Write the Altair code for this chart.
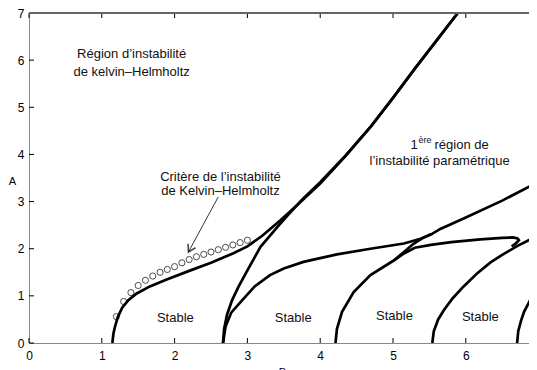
import altair as alt
import pandas as pd

# ---------------- data ----------------
c1_x = [1.145, 1.16, 1.18, 1.22, 1.28, 1.36, 1.48, 1.66, 1.90, 2.20, 2.50, 2.80, 3.00, 3.20, 3.45, 3.70, 4.00, 4.35, 4.70, 5.00, 5.30, 5.60, 5.89]
c1_y = [0.00, 0.20, 0.34, 0.55, 0.75, 0.90, 1.05, 1.20, 1.35, 1.53, 1.70, 1.90, 2.05, 2.27, 2.60, 2.95, 3.38, 3.97, 4.60, 5.20, 5.82, 6.42, 7.00]

c2a_x = [2.665, 2.68, 2.72, 2.79, 2.88, 3.00, 3.18, 3.41, 3.55, 3.75, 4.00, 4.35, 4.70, 5.00, 5.30, 5.60, 5.89]
c2a_y = [0.00, 0.30, 0.60, 0.91, 1.20, 1.54, 2.04, 2.46, 2.70, 3.04, 3.41, 3.98, 4.60, 5.20, 5.82, 6.42, 7.00]

c2b_x = [2.665, 2.70, 2.78, 2.93, 3.10, 3.31, 3.50, 3.77, 4.00, 4.23, 4.69, 5.15, 5.38, 5.52, 5.65, 6.00, 6.50, 7.00]
c2b_y = [0.00, 0.35, 0.65, 0.91, 1.20, 1.44, 1.58, 1.72, 1.80, 1.88, 2.00, 2.11, 2.21, 2.30, 2.42, 2.66, 3.02, 3.42]

c3_x = [4.21, 4.23, 4.30, 4.46, 4.69, 5.01, 5.15, 5.30, 5.52, 5.80, 6.20, 6.50, 6.65, 6.71, 6.73, 6.68, 6.63]
c3_y = [0.00, 0.30, 0.66, 1.08, 1.44, 1.75, 1.90, 2.02, 2.08, 2.14, 2.20, 2.23, 2.24, 2.22, 2.18, 2.10, 2.05]

c3a_x = [5.01, 5.15, 5.27, 5.40, 5.52]
c3a_y = [1.75, 1.93, 2.09, 2.22, 2.31]

c4_x = [5.54, 5.56, 5.62, 5.70, 5.82, 5.97, 6.15, 6.34, 6.50, 6.71, 6.85, 7.00]
c4_y = [0.00, 0.25, 0.50, 0.70, 0.95, 1.20, 1.47, 1.71, 1.87, 2.06, 2.17, 2.29]

c5_x = [6.705, 6.72, 6.76, 6.80, 6.88, 6.98, 7.00]
c5_y = [0.00, 0.25, 0.48, 0.66, 0.90, 1.14, 1.18]

crit_x = [1.2, 1.3, 1.4, 1.5, 1.6, 1.7, 1.8, 1.9, 2.0, 2.1, 2.2, 2.3, 2.4, 2.5, 2.6, 2.7, 2.8, 2.9, 3.0]
crit_y = [0.56, 0.88, 1.07, 1.22, 1.33, 1.42, 1.50, 1.56, 1.62, 1.70, 1.77, 1.83, 1.88, 1.93, 1.98, 2.03, 2.08, 2.13, 2.18]

stable_x = [2.01, 3.63, 5.02, 6.20]
stable_y = [0.53, 0.53, 0.57, 0.55]

x_ticks = [0, 1, 2, 3, 4, 5, 6]
y_ticks = [0, 1, 2, 3, 4, 5, 6, 7]

arrow_x = [2.60, 2.19]
arrow_y = [3.10, 1.93]

# ---------------- tables ----------------
curves = []
for name, xs_, ys_ in [("c1", c1_x, c1_y), ("c2a", c2a_x, c2a_y), ("c2b", c2b_x, c2b_y),
                       ("c3", c3_x, c3_y), ("c3a", c3a_x, c3a_y), ("c4", c4_x, c4_y),
                       ("c5", c5_x, c5_y)]:
    for i, (a, b) in enumerate(zip(xs_, ys_)):
        curves.append({"curve": name, "i": i, "x": a, "y": b})
curves = pd.DataFrame(curves)
crit = pd.DataFrame({"x": crit_x, "y": crit_y})
stable = pd.DataFrame({"x": stable_x, "y": stable_y, "t": ["Stable"] * 4})
xt = pd.DataFrame({"x": x_ticks})
yt = pd.DataFrame({"y": y_ticks})
arrow = pd.DataFrame({"x": arrow_x, "y": arrow_y, "i": [0, 1]})
tip = pd.DataFrame({"x": [arrow_x[1]], "y": [arrow_y[1]]})

W, H = 500, 330
XMAX = 6.868   # x value at the right edge of the visible plot area
FONT = "Liberation Sans"

xs = alt.Scale(domain=[0, XMAX], nice=False, zero=False)
ys = alt.Scale(domain=[0, 7], nice=False, zero=False)

x_axis = alt.Axis(
    values=x_ticks, format="d", ticks=False, labelPadding=7, title="B",
    titleAngle=0, titleX=253, titleY=23, titleBaseline="top", titleFontWeight="normal",
    labelFlush=False, labelOverlap=False, grid=False, labelFontSize=12)
y_axis = alt.Axis(
    values=y_ticks, format="d", ticks=False, labelPadding=5, title="A",
    titleAngle=0, titleX=-17, titleY=168, titleAlign="center", titleBaseline="middle",
    titleFontWeight="normal", labelFlush=False, labelOverlap=False, grid=False, labelFontSize=12)
X = alt.X("x:Q", scale=xs, axis=x_axis)
Y = alt.Y("y:Q", scale=ys, axis=y_axis)

lines = alt.Chart(curves).mark_line(color="black", strokeWidth=2.7, clip=True).encode(
    x=X, y=Y, detail="curve:N", order="i:Q")

circles = alt.Chart(crit).mark_point(shape="circle", size=38, filled=False,
                                     color="black", strokeWidth=1).encode(x=X, y=Y)

stab = alt.Chart(stable).mark_text(font=FONT, fontSize=13, color="#111").encode(
    x=X, y=Y, text="t:N")

def label(x, y, t, **kw):
    d = pd.DataFrame({"x": [x], "y": [y], "t": [t]})
    args = dict(font=FONT, fontSize=13, color="#111", baseline="middle")
    args.update(kw)
    return alt.Chart(d).mark_text(**args).encode(x=X, y=Y, text="t:N")

texts = [
    label(1.41, 6.13, "Région d’instabilité"),
    label(1.41, 5.75, "de kelvin–Helmholtz"),
    label(2.63, 3.53, "Critère de l’instabilité"),
    label(2.63, 3.23, "de Kelvin–Helmholtz"),
    label(5.24, 4.19, "1", align="left"),
    label(5.24, 4.19, "ère", align="left", fontSize=9, dx=8, dy=-5),
    label(5.24, 4.19, "région de", align="left", dx=24),
    label(5.64, 3.87, "l’instabilité paramétrique"),
]

arrow_line = alt.Chart(arrow).mark_line(color="#333", strokeWidth=1).encode(x=X, y=Y, order="i:Q")
arrow_head = alt.Chart(tip).mark_point(shape="M -0.6 -1 L 0 0 L 0.6 -1", size=200, angle=28,
                                        filled=False, color="black", strokeWidth=1.6).encode(x=X, y=Y)

tk = dict(color="black", strokeWidth=1)
t_bottom = alt.Chart(xt).mark_rule(**tk).encode(x=X, y=alt.value(H), y2=alt.value(H - 5))
t_top = alt.Chart(xt).mark_rule(**tk).encode(x=X, y=alt.value(0), y2=alt.value(5))
t_left = alt.Chart(yt).mark_rule(**tk).encode(y=Y, x=alt.value(0), x2=alt.value(5))
top_border = alt.Chart(xt).mark_rule(color="#666", strokeWidth=1.5).encode(
    x=alt.value(0), x2=alt.value(W), y=alt.value(0))

chart = alt.layer(lines, circles, stab, arrow_line, arrow_head, *texts,
                  t_bottom, t_top, t_left, top_border).properties(
    width=W, height=H,
    autosize=alt.AutoSizeParams(type="none"),
    padding={"left": 21, "top": 5, "right": 0, "bottom": 30},
).configure_view(stroke=None).configure_axis(
    domainColor="black", domainWidth=1.5, labelFont=FONT, labelFontSize=12,
    labelColor="#111", titleFont=FONT, titleFontSize=13, titleColor="#111"
).configure(background="white")

chart.save("out.html", embed_options={"renderer": "svg", "actions": False})
